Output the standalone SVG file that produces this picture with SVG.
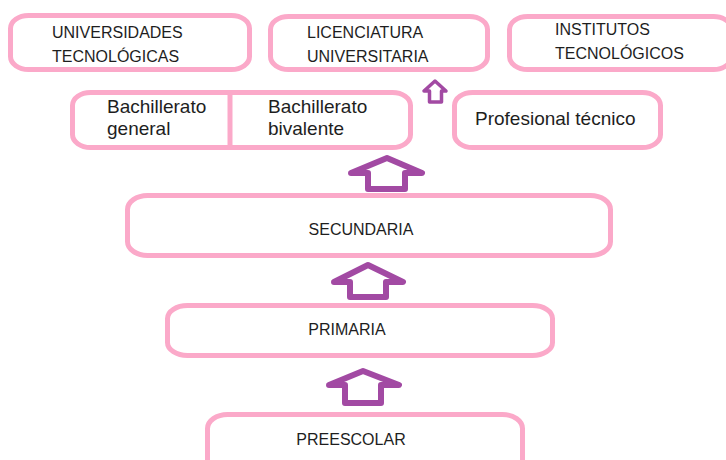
<svg xmlns="http://www.w3.org/2000/svg" width="726" height="460" viewBox="0 0 726 460">
<style>
.box{fill:#fff;stroke:#FBA9C9;stroke-width:5}
.div{stroke:#FBA9C9;stroke-width:5}
.t{font-family:"Liberation Sans",Arial,sans-serif;fill:#1e1e1e}
.c{font-size:16px}
.m{font-size:19px}
.arr{fill:#fff;stroke:#A24AA3;stroke-width:6;stroke-linejoin:round}
.arrs{fill:#fff;stroke:#A24AA3;stroke-width:3.5;stroke-linejoin:round}
</style>
<rect width="726" height="460" fill="#fff"/>
<g id="universidades">
<rect class="box" x="10.5" y="15.5" width="239" height="54" rx="18" ry="13"/>
<text class="t c" x="52" y="38">UNIVERSIDADES</text>
<text class="t c" x="52" y="62">TECNOLÓGICAS</text>
</g>
<g id="licenciatura">
<rect class="box" x="270.5" y="16.5" width="217" height="53" rx="18" ry="13"/>
<text class="t c" x="307" y="38">LICENCIATURA</text>
<text class="t c" x="307" y="62">UNIVERSITARIA</text>
</g>
<g id="institutos">
<rect class="box" x="509.5" y="16.5" width="222" height="53" rx="18" ry="13"/>
<text class="t c" x="555" y="35">INSTITUTOS</text>
<text class="t c" x="555" y="59">TECNOLÓGICOS</text>
</g>
<g id="bachillerato">
<rect class="box" x="72.5" y="92.5" width="338" height="55" rx="18" ry="13"/>
<line class="div" x1="230" y1="92.5" x2="230" y2="147.5"/>
<text class="t m" x="107" y="113">Bachillerato</text>
<text class="t m" x="107" y="135">general</text>
<text class="t m" x="268" y="113">Bachillerato</text>
<text class="t m" x="268" y="135">bivalente</text>
</g>
<g id="profesional">
<rect class="box" x="454.5" y="92.5" width="206" height="55" rx="18" ry="13"/>
<text class="t m" x="475" y="125">Profesional técnico</text>
</g>
<g id="secundaria">
<rect class="box" x="127.5" y="195.5" width="483" height="60" rx="20" ry="14"/>
<text class="t c" x="361" y="235" text-anchor="middle">SECUNDARIA</text>
</g>
<g id="primaria">
<rect class="box" x="167.5" y="305.5" width="385" height="50" rx="20" ry="13"/>
<text class="t c" x="347" y="335" text-anchor="middle">PRIMARIA</text>
</g>
<g id="preescolar">
<rect class="box" x="207.5" y="414.5" width="315" height="62" rx="20" ry="14"/>
<text class="t c" x="351" y="445" text-anchor="middle">PREESCOLAR</text>
</g>
<g id="connectors">
<polygon class="arrs" points="435,81 446,91 441.5,91 441.5,102 429.5,102 429.5,91 424,91"/>
<polygon class="arr" points="387,158 422,173 405,173 405,189 368,189 368,173 351,173"/>
<polygon class="arr" points="368,265 403,282 386,282 386,297 350,297 350,282 334,282"/>
<polygon class="arr" points="363,371 399,385 381,385 381,403 345,403 345,385 329,385"/>
</g>
</svg>
